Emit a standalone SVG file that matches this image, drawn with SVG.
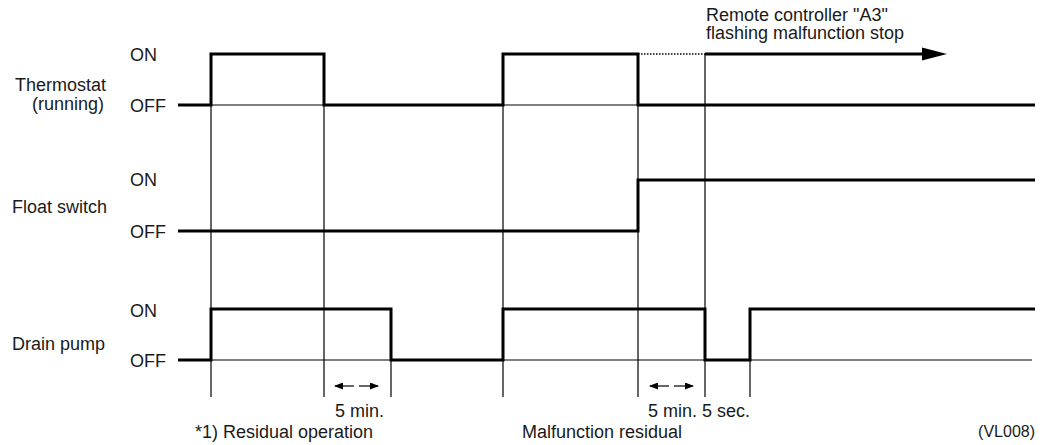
<svg xmlns="http://www.w3.org/2000/svg" width="1044" height="445" viewBox="0 0 1044 445">
<style>
text{font-family:"Liberation Sans",Arial,sans-serif;font-size:18px;fill:#1a1a1a}
.thick{fill:none;stroke:#000;stroke-width:3;stroke-linejoin:miter;stroke-linecap:butt}
.thin{fill:none;stroke:#000;stroke-width:1.2}
.dot{fill:none;stroke:#000;stroke-width:1.3;stroke-dasharray:1.5 1.5}
</style>
<defs>
<marker id="sh" markerWidth="9" markerHeight="7" refX="8" refY="3.5" orient="auto" markerUnits="userSpaceOnUse">
<path d="M0,0 L9,3.5 L0,7 Z" fill="#000"/>
</marker>
</defs>
<rect width="1044" height="445" fill="#fff"/>

<g id="connectors">
<line class="thin" x1="211" y1="54" x2="211" y2="397"/>
<line class="thin" x1="324" y1="54" x2="324" y2="397"/>
<line class="thin" x1="391" y1="309" x2="391" y2="397"/>
<line class="thin" x1="503" y1="54" x2="503" y2="397"/>
<line class="thin" x1="638" y1="54" x2="638" y2="397"/>
<line class="thin" x1="705" y1="54" x2="705" y2="397"/>
<line class="thin" x1="750" y1="309" x2="750" y2="397"/>
<line class="dot" x1="638" y1="54" x2="705" y2="54"/>
<line class="thick" x1="705" y1="54" x2="925" y2="54"/>
<path d="M922,47.5 L947,54 L922,60.5 Z" fill="#000"/>
<line class="thin" x1="354" y1="386" x2="335" y2="386" marker-end="url(#sh)"/>
<line class="thin" x1="359" y1="386" x2="378" y2="386" marker-end="url(#sh)"/>
<line class="thin" x1="669" y1="386" x2="650" y2="386" marker-end="url(#sh)"/>
<line class="thin" x1="674" y1="386" x2="693" y2="386" marker-end="url(#sh)"/>
</g>

<g id="thermostat">
<text x="106" y="91" text-anchor="end">Thermostat</text>
<text x="104" y="110" text-anchor="end">(running)</text>
<text x="130" y="61">ON</text>
<text x="130" y="112">OFF</text>
<line class="thin" x1="211" y1="105" x2="324" y2="105"/>
<line class="thin" x1="503" y1="105" x2="638" y2="105"/>
<path class="thick" d="M178,105 H211 V54 H324 V105 H503 V54 H638 V105 H1035"/>
</g>

<g id="float-switch">
<text x="12" y="213">Float switch</text>
<text x="130" y="186">ON</text>
<text x="130" y="238">OFF</text>
<path class="thick" d="M178,231 H638 V180 H1035"/>
</g>

<g id="drain-pump">
<text x="12" y="350">Drain pump</text>
<text x="130" y="317">ON</text>
<text x="130" y="367">OFF</text>
<line class="thin" x1="211" y1="360" x2="1032" y2="360"/>
<path class="thick" d="M178,360 H211 V309 H391 V360 H503 V309 H705 V360 H750 V309 H1035"/>
</g>

<g id="labels">
<text x="706" y="21">Remote controller "A3"</text>
<text x="706" y="39">flashing malfunction stop</text>
<text x="335" y="417">5 min.</text>
<text x="195" y="438">*1) Residual operation</text>
<text x="648" y="417">5 min. 5 sec.</text>
<text x="522" y="438">Malfunction residual</text>
<text x="1035" y="437" text-anchor="end" style="font-size:16px">(VL008)</text>
</g>
</svg>
